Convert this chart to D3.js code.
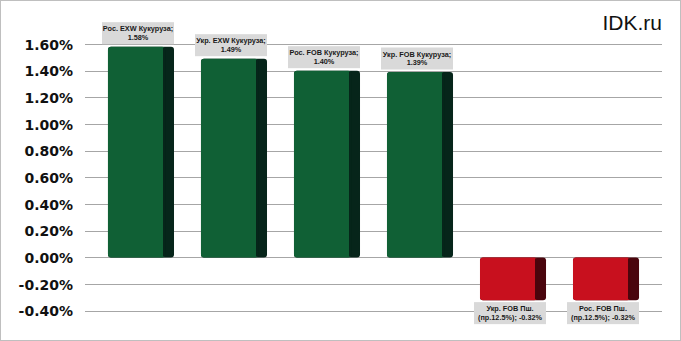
<!DOCTYPE html>
<html><head><meta charset="utf-8">
<script src="https://cdn.jsdelivr.net/npm/d3@7"></script>
<style>html,body{margin:0;padding:0;background:#fff;}svg{display:block;}</style>
</head><body>
<svg id="c" width="681" height="341"></svg>
<script>
const categories = [
  ["Рос. EXW Кукуруза;"],
  ["Укр. EXW Кукуруза;"],
  ["Рос. FOB Кукуруза;"],
  ["Укр. FOB Кукуруза;"],
  ["Укр. FOB Пш.", "(пр.12.5%);"],
  ["Рос. FOB Пш.", "(пр.12.5%);"]
];
const values = [1.58, 1.49, 1.40, 1.39, -0.32, -0.32];
const valueLabels = ["1.58%", "1.49%", "1.40%", "1.39%", "-0.32%", "-0.32%"];
const yTicks = [-0.4, -0.2, 0, 0.2, 0.4, 0.6, 0.8, 1.0, 1.2, 1.4, 1.6];

const svg = d3.select("#c");
const W = 681, H = 341;
svg.append("rect").attr("x", 0.5).attr("y", 0.5).attr("width", W - 1).attr("height", H - 1)
  .attr("fill", "#fff").attr("stroke", "#bfbfbf");

const x = d3.scaleBand().domain(d3.range(values.length)).range([85, 662])
  .paddingInner(0.29).paddingOuter(0.247);
const y = d3.scaleLinear().domain([-0.4, 1.6]).range([310.8, 44]);

// gridlines
svg.append("g").selectAll("line").data(yTicks).join("line")
  .attr("x1", 85).attr("x2", 662)
  .attr("y1", d => Math.round(y(d)) + 0.5).attr("y2", d => Math.round(y(d)) + 0.5)
  .attr("stroke", "#a6a6a6").attr("stroke-width", 1);

// y labels
const yAxis = d3.axisLeft(y).tickValues(yTicks).tickSize(0).tickPadding(0)
  .tickFormat(d => d.toFixed(2) + "%");
const ga = svg.append("g").attr("transform", "translate(73,0)").call(yAxis);
ga.select(".domain").remove();
ga.selectAll("text").attr("font-family", "DejaVu Sans").attr("font-weight", "bold")
  .attr("font-size", 14).attr("fill", "#111").attr("dy", "0.36em");

// bars
const side = 11;
const g = svg.append("g");
values.forEach((v, i) => {
  const pos = v >= 0;
  const light = pos ? "#106035" : "#c8101e";
  const dark = pos ? "#06251a" : "#4a050d";
  const x0 = x(i), w = x.bandwidth();
  const yt = y(Math.max(v, 0)), yb = y(Math.min(v, 0));
  g.append("rect").attr("x", x0).attr("y", yt).attr("width", w).attr("height", yb - yt)
    .attr("rx", 3).attr("fill", dark);
  g.append("rect").attr("x", x0).attr("y", yt).attr("width", w - side + 2).attr("height", yb - yt)
    .attr("rx", 3).attr("fill", light);
  g.append("rect").attr("x", x0 + w - side).attr("y", yt + 1).attr("width", 2).attr("height", yb - yt - 2)
    .attr("fill", dark);
});

// data labels
const lab = svg.append("g").attr("font-family", "Liberation Sans, Arial, sans-serif")
  .attr("font-weight", "bold").attr("font-size", 7.3).attr("fill", "#1a1a1a")
  .attr("text-anchor", "middle");
values.forEach((v, i) => {
  const cx = x(i) + x.bandwidth() / 2 - 3;
  const bw = 72, bh = 22;
  let lines;
  if (categories[i].length === 1) lines = [categories[i][0], valueLabels[i]];
  else lines = [categories[i][0], categories[i][1] + " " + valueLabels[i]];
  let top;
  if (v >= 0) top = y(v) - bh - 2.5;
  else top = y(v) + 2;
  lab.append("rect").attr("x", cx - bw / 2).attr("y", top).attr("width", bw).attr("height", bh)
    .attr("fill", "#d9d9d9");
  lines.forEach((t, k) => {
    lab.append("text").attr("x", cx).attr("y", top + 9 + k * 8.5).text(t);
  });
});

// watermark
svg.append("text").attr("x", 662).attr("y", 30).attr("text-anchor", "end")
  .attr("font-family", "Liberation Sans, Arial, sans-serif").attr("font-size", 21)
  .attr("fill", "#111").text("IDK.ru");
</script>
</body></html>
